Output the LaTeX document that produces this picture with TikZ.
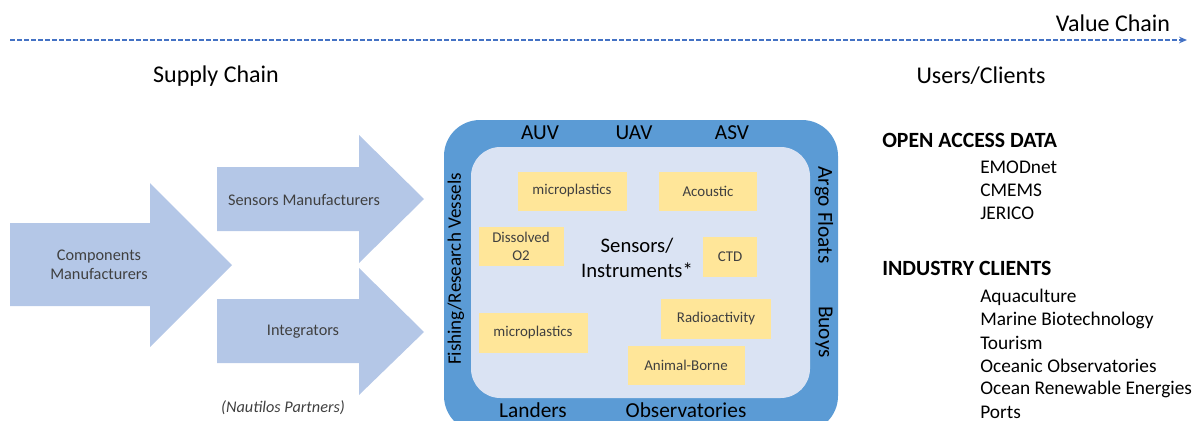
\documentclass[tikz,border=0pt]{standalone}
\usepackage{fontspec}
\setmainfont{Carlito}
\usepackage{xcolor}
\usepackage{tikz}
\usetikzlibrary{positioning,arrows.meta}

\definecolor{chainblue}{HTML}{4472C4}
\definecolor{arrowfill}{HTML}{B4C7E7}
\definecolor{frameblue}{HTML}{5B9BD5}
\definecolor{innerblue}{HTML}{DAE3F3}
\definecolor{sensorfill}{HTML}{FFE699}
\definecolor{labelgray}{HTML}{404040}

\begin{document}
\begin{tikzpicture}[x=0.75pt,y=-0.75pt,
		bigtext/.style={font=\fontsize{18}{22}\selectfont},
		frametext/.style={font=\fontsize{16}{19}\selectfont},
		arrowtext/.style={text=labelgray, align=center, font=\fontsize{12.2}{14.6}\selectfont},
		sensortext/.style={text=labelgray, align=center, font=\fontsize{11.2}{13.4}\selectfont},
		listhead/.style={anchor=west, inner sep=0pt, font=\bfseries\fontsize{16.3}{19}\selectfont},
		listitem/.style={anchor=west, inner sep=0pt, font=\fontsize{14.5}{17}\selectfont}]
				\useasboundingbox (0,0) rectangle (1197,421);
				\clip (0,0) rectangle (1197,421);
				
				% value chain
				\coordinate (vcstart) at (10,40);
				\coordinate (vcend) at (1187,40);
				\draw[chainblue, line width=1.5pt, dash pattern=on 3.75pt off 1.5pt, -{Stealth[length=6pt,width=5pt]}] (vcstart) -- (vcend);
				\node[bigtext] (valuechain) at (1113,23) {Value Chain};
				\node[bigtext] (supplychain) at (216,76) {Supply Chain};
				\node[bigtext] (users) at (981,76) {Users/Clients};
				
				% supply arrows
				\fill[arrowfill] (10,223) -- (150,223) -- (150,183) -- (232,265) -- (150,347) -- (150,306) -- (10,306) -- cycle;
				\fill[arrowfill] (217,167) -- (359,167) -- (359,135) -- (424,199) -- (359,263) -- (359,231) -- (217,231) -- cycle;
				\fill[arrowfill] (217,299) -- (359,299) -- (359,268) -- (424,332) -- (359,395) -- (359,363) -- (217,363) -- cycle;
				\node[arrowtext] (components) at (99,265) {Components\\Manufacturers};
				\node[arrowtext] (sensorsman) at (304,200) {Sensors Manufacturers};
				\node[arrowtext] (integrators) at (303,332) {Integrators};
				\node[arrowtext, font=\itshape\fontsize{12.2}{14.6}\selectfont] (partners) at (283,408) {(Nautilos Partners)};
				
				% platforms and sensors
				\fill[frameblue, rounded corners=27pt] (444,120) rectangle (838,432);
				\fill[innerblue, rounded corners=22pt] (471,147) rectangle (810,398);
				\node[frametext] (auv) at (540,133) {AUV};
				\node[frametext] (uav) at (634,133) {UAV};
				\node[frametext] (asv) at (732,133) {ASV};
				\node[frametext] (landers) at (533,410) {Landers};
				\node[frametext] (observ) at (686,410) {Observatories};
				\node[frametext, font=\fontsize{14.3}{17}\selectfont, rotate=90] (vessels) at (456,269) {Fishing/Research Vessels};
				\node[frametext, rotate=-90] (argo) at (824,215) {Argo Floats};
				\node[frametext, rotate=-90] (buoys) at (824,332) {Buoys};
				
				\fill[sensorfill] (518,172) rectangle (627,211);
				\fill[sensorfill] (659,172) rectangle (757,211);
				\fill[sensorfill] (479,227) rectangle (564,266);
				\fill[sensorfill] (703,237) rectangle (757,277);
				\fill[sensorfill] (661,299) rectangle (771,339);
				\fill[sensorfill] (479,313) rectangle (588,353);
				\fill[sensorfill] (628,346) rectangle (745,385);
				\node[sensortext] (microtop) at (572,191) {microplastics};
				\node[sensortext] (acoustic) at (708,191) {Acoustic};
				\node[sensortext] (oxygen) at (521,246) {Dissolved\\O2};
				\node[sensortext] (ctd) at (730,257) {CTD};
				\node[sensortext] (radio) at (716,319) {Radioactivity};
				\node[sensortext] (microbot) at (533,333) {microplastics};
				\node[sensortext] (animal) at (686,365) {Animal-Borne};
				\node[align=center, font=\fontsize{15.5}{19}\selectfont] (instruments) at (637,258) {Sensors/\\Instruments*};
				
				% users
				\node[listhead] (openaccess) at (882,140) {OPEN ACCESS DATA};
				\node[listitem] (emodnet) at (980,167) {EMODnet};
				\node[listitem] (cmems) at (980,190) {CMEMS};
				\node[listitem] (jerico) at (980,213) {JERICO};
				\node[listhead] (industry) at (882,268) {INDUSTRY CLIENTS};
				\node[listitem] (aqua) at (980,297) {Aquaculture};
				\node[listitem] (biotech) at (980,320) {Marine Biotechnology};
				\node[listitem] (tourism) at (980,343) {Tourism};
				\node[listitem] (oceanobs) at (980,366) {Oceanic Observatories};
				\node[listitem] (renew) at (980,389) {Ocean Renewable Energies};
				\node[listitem] (ports) at (980,412) {Ports};
			\end{tikzpicture}
\end{document}
